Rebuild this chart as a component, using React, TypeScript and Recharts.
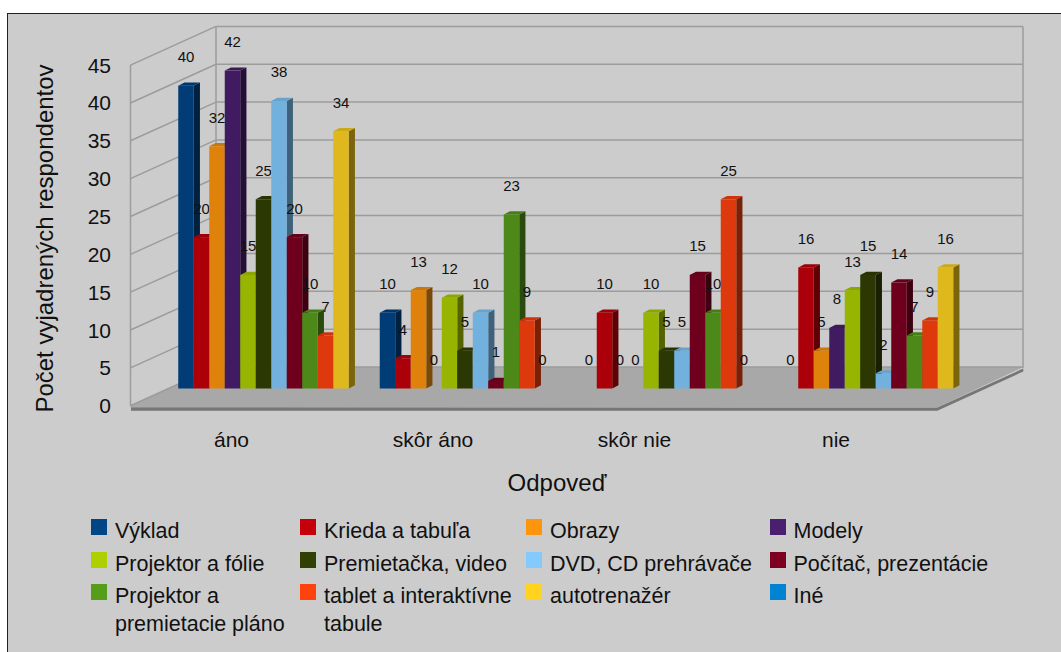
import React from 'react';
import { BarChart, Bar, XAxis, YAxis, CartesianGrid, Legend } from 'recharts';

const categories = ['áno', 'skôr áno', 'skôr nie', 'nie'];
const seriesNames = [
  'Výklad', 'Krieda a tabuľa', 'Obrazy', 'Modely',
  'Projektor a fólie', 'Premietačka, video', 'DVD, CD prehrávače', 'Počítač, prezentácie',
  'Projektor a premietacie pláno', 'tablet a interaktívne tabule', 'autotrenažér', 'Iné',
];
const vyklad = [40, 10, 0, 0];
const krieda = [20, 4, 10, 16];
const obrazy = [32, 13, 0, 5];
const modely = [42, 0, 0, 8];
const folie = [15, 12, 10, 13];
const video = [25, 5, 5, 15];
const dvd = [38, 10, 5, 2];
const pocitac = [20, 1, 15, 14];
const plano = [10, 23, 10, 7];
const tablet = [7, 9, 25, 9];
const trenazer = [34, 0, 0, 16];
const ine = [null, null, null, null];
const seriesValues = [vyklad, krieda, obrazy, modely, folie, video, dvd, pocitac, plano, tablet, trenazer, ine];
const yTicks = [0, 5, 10, 15, 20, 25, 30, 35, 40, 45];

const COLORS = ['#004586', '#c5000b', '#ff950e', '#4b1f6f', '#aecf00', '#314004', '#83caff', '#7e0021', '#579d1c', '#ff420e', '#ffd320', '#0084d1'];

const FONT = '"Liberation Sans", Arial, sans-serif';
const DEPTH_X = 39.5; // shift of the bars' plane from the front of the box
const FRONT_DY = 17.2;
const BACK_DY = 21.5;

const data = categories.map((name, c) => {
  const row: any = { name };
  seriesNames.forEach((s, i) => { row[s] = seriesValues[i][c]; });
  return row;
});

const shade = (hex: string, k: number) => {
  const n = parseInt(hex.slice(1), 16);
  const ch = (v: number) => Math.round(v * k);
  return `rgb(${ch((n >> 16) & 255)},${ch((n >> 8) & 255)},${ch(n & 255)})`;
};

const Bar3D = (props: any) => {
  const { x, y, width, height, fill, payload, name } = props;
  const value = payload[name];
  if (value === null || value === undefined) return null;
  const dx = 6.2;
  const dy = 3.2;
  const r = x + width;
  return (
    <g>
      {value > 0 && (
        <>
          <polygon points={`${r},${y} ${r + dx},${y - dy} ${r + dx},${y + height - dy} ${r},${y + height}`} fill={shade(fill, 0.48)} />
          <polygon points={`${x},${y} ${x + dx},${y - dy} ${r + dx},${y - dy} ${r},${y}`} fill={shade(fill, 0.8)} />
          <rect x={x} y={y} width={width} height={height} fill={shade(fill, 0.87)} />
        </>
      )}
      <text x={x + width / 2} y={y - 29} textAnchor="middle" dominantBaseline="central" fontSize={15} fontFamily={FONT} fill="#111">
        {value}
      </text>
    </g>
  );
};

const XTick = ({ x, payload }: any) => (
  <text x={x - DEPTH_X} y={447} textAnchor="middle" fontSize={21} fontFamily={FONT} fill="#111">
    {payload.value}
  </text>
);

const YTick = ({ y, payload }: any) => (
  <text x={111} y={y + FRONT_DY} textAnchor="end" dominantBaseline="central" fontSize={21} fontFamily={FONT} fill="#111">
    {payload.value}
  </text>
);

const GridLine = ({ y1 }: any) => {
  const back = y1 - BACK_DY;
  const front = y1 + FRONT_DY;
  return (
    <g stroke="#9c9c9c" strokeWidth={1.5} fill="none">
      <line x1={216} y1={back} x2={1023} y2={back} />
      <line x1={130.5} y1={front} x2={216} y2={back} />
    </g>
  );
};

const legendCols = [91, 300, 526, 769.5];
const legendRows = [519, 551.5, 584];
const legendWidths = [178, 195, 230, 240];

const renderLegend = ({ payload }: any) => (
  <div>
    {(payload || []).map((item: any, i: number) => {
      const col = i % 4;
      const row = Math.floor(i / 4);
      return (
        <div key={item.value}>
          <div style={{ position: 'absolute', left: legendCols[col], top: legendRows[row], width: 16, height: 16, background: item.color }} />
          <div
            style={{
              position: 'absolute',
              left: legendCols[col] + 24,
              top: legendRows[row] - 2,
              width: legendWidths[col],
              fontFamily: FONT,
              fontSize: 21.5,
              lineHeight: '28px',
              color: '#111',
              textAlign: 'left',
            }}
          >
            {item.value}
          </div>
        </div>
      );
    })}
  </div>
);

const Box = () => (
  <svg width={1061} height={652} style={{ position: 'absolute', left: 0, top: 0 }}>
    <rect x={7.5} y={13.5} width={1060} height={650} fill="#cccccc" stroke="#222" strokeWidth={1} />
    <polygon points="131,407 937.3,407.5 1023.3,368.5 1023.3,371.5 937.3,410.7 131,410.7" fill="#767676" />
    <polygon points="130.5,405.7 216,367 1023.3,367 937.3,407.6 130.5,407.6" fill="#a8a8a8" />
    <g stroke="#9c9c9c" strokeWidth={1.5} fill="none">
      <line x1={130.5} y1={65} x2={130.5} y2={406} />
      <line x1={216} y1={26.5} x2={216} y2={367} />
      <line x1={1023} y1={26.5} x2={1023} y2={368} />
    </g>
  </svg>
);

export default function App() {
  return (
    <div style={{ position: 'absolute', left: 0, top: 0, width: 1061, height: 652, overflow: 'hidden', background: '#fff' }}>
      <Box />
      <div style={{ position: 'absolute', left: 0, top: 0 }}>
        <BarChart
          width={1061}
          height={652}
          data={data}
          margin={{ top: 47.9, right: 84.75, bottom: 262.5, left: 169.25 }}
          barGap={0}
        >
          <CartesianGrid horizontal={GridLine} vertical={false} />
          <XAxis
            dataKey="name"
            height={1}
            axisLine={false}
            tickLine={false}
            tick={XTick}
            interval={0}
            label={{
              content: () => (
                <text x={557} y={491} textAnchor="middle" fontSize={24} fontFamily={FONT} fill="#111">
                  Odpoveď
                </text>
              ),
            }}
          />
          <YAxis
            width={1}
            domain={[0, 45]}
            ticks={yTicks}
            interval={0}
            axisLine={false}
            tickLine={false}
            tick={YTick}
            label={{
              content: () => (
                <text
                  x={53}
                  y={238.5}
                  transform="rotate(-90 53 238.5)"
                  textAnchor="middle"
                  fontSize={24}
                  fontFamily={FONT}
                  fill="#111"
                >
                  Počet vyjadrených respondentov
                </text>
              ),
            }}
          />
          <Legend
            layout="horizontal"
            verticalAlign="middle"
            itemSorter={null}
            content={renderLegend}
            wrapperStyle={{ left: 0, top: 0, width: 0, height: 0 }}
          />
          {seriesNames.map((s, i) => (
            <Bar
              key={s}
              dataKey={s}
              name={s}
              fill={COLORS[i]}
              barSize={15.5}
              isAnimationActive={false}
              shape={(p: any) => <Bar3D {...p} name={s} fill={COLORS[i]} />}
            />
          ))}
        </BarChart>
      </div>
    </div>
  );
}
